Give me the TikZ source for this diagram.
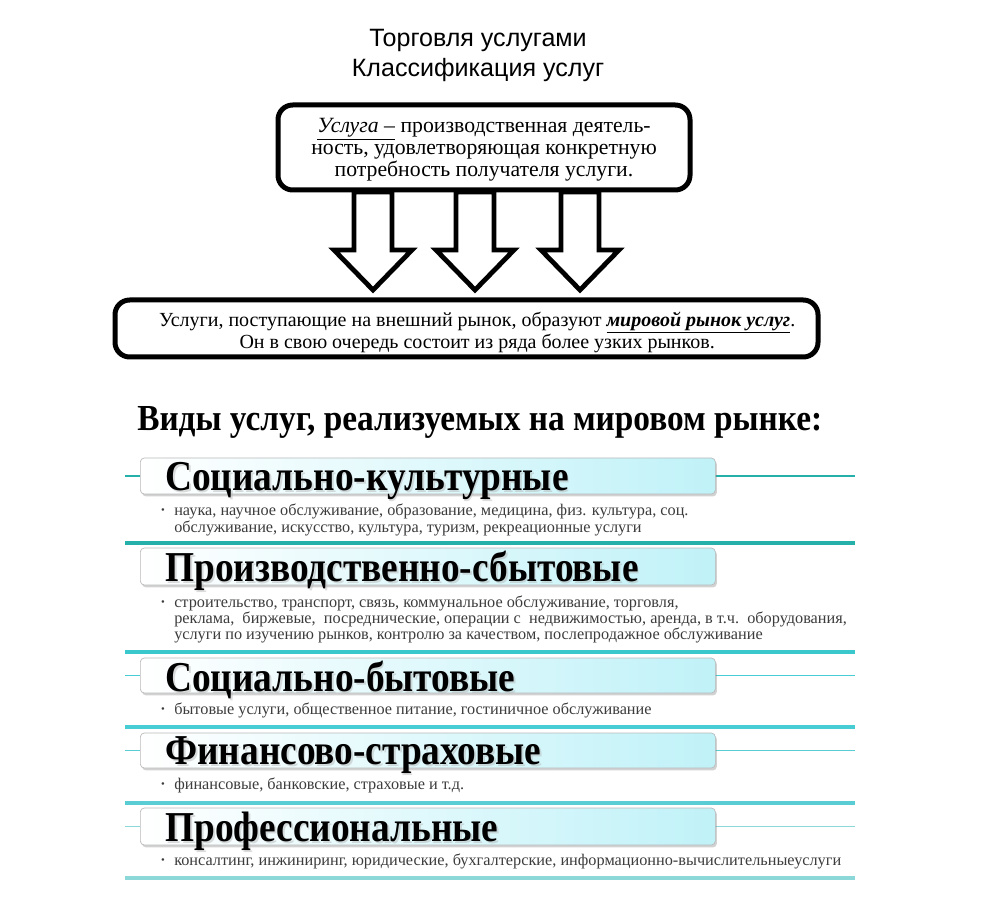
\documentclass[tikz,border=0pt]{standalone}
\usepackage{fontspec}
\setmainfont{Liberation Serif}
\newfontfamily\titlefont{Liberation Sans}
\usetikzlibrary{shadows}
\definecolor{bandcyan}{RGB}{192,242,248}
\definecolor{tealA}{RGB}{38,176,170}
\definecolor{tealB}{RGB}{58,200,205}
\definecolor{tealC}{RGB}{72,205,212}
\definecolor{tealD}{RGB}{90,205,212}
\definecolor{tealE}{RGB}{140,215,215}
\definecolor{bodygray}{RGB}{60,60,60}
\newcommand\tallhead[1]{\scalebox{1}[1.14]{#1}}
\tikzset{
  titletext/.style={font=\titlefont\fontsize{18.8}{22}\selectfont},
  bigbox/.style={draw=black, line width=3.75pt, rounded corners=11pt, fill=white, align=center, inner sep=0pt},
  boxtext/.style={align=center, inner sep=0pt},
  blockarrow/.style={draw=black, line width=3.6pt, fill=white, line join=miter},
  bandbox/.style={draw=gray!55, line width=0.5pt, rounded corners=3pt, left color=white, right color=bandcyan,
     drop shadow={opacity=0.35, shadow xshift=1.2pt, shadow yshift=-1.8pt}, inner sep=0pt, anchor=west},
  bandhead/.style={font=\bfseries\fontsize{28}{30}\selectfont, anchor=west, inner sep=0pt},
  bandshadow/.style={bandhead, text=black!30, opacity=0.45},
  bandbody/.style={font=\fontsize{12.2}{11}\selectfont, text=bodygray, anchor=north west, align=left, inner sep=0pt},
  bullet/.style={font=\fontsize{8}{8}\selectfont, text=bodygray, inner sep=0pt},
  thinline/.style={line width=1.1pt},
  thickline/.style={line width=3pt},
}
\begin{document}
\begin{tikzpicture}[x=0.75pt,y=-0.75pt]
\useasboundingbox (0,0) rectangle (997,909);
\fill[white] (0,0) rectangle (997,909);

% titles
\node[titletext] (t1) at (478,40) {Торговля услугами};
\node[titletext] (t2) at (478,70) {Классификация услуг};

% arrows (behind boxes)
\foreach \c/\n in {373/a1,475/a2,580/a3}{
  \draw[blockarrow] (\c-19,192) -- (\c+19,192) -- (\c+19,250) -- (\c+39,250) -- (\c,290)
     -- (\c-39,250) -- (\c-19,250) -- cycle;
}

% top box
\node[bigbox, minimum width=309pt, minimum height=63.75pt] (def) at (484,147.5) {};
\node[boxtext, font=\fontsize{16.3}{16.5}\selectfont] (deftext) at ([yshift=-1.5pt]def.center)
  {\underline{\textit{Услуга –}} производственная деятель-\\ность, удовлетворяющая конкретную\\потребность получателя услуги.};

% middle box
\node[bigbox, minimum width=527.25pt, minimum height=42.75pt] (market) at (466.5,328.5) {};
\node[boxtext, font=\fontsize{15}{15}\selectfont] (markettext) at ([xshift=8pt,yshift=-3pt]market.center)
  {Услуги, поступающие на внешний рынок, образуют \underline{\textbf{\textit{мировой рынок услуг}}}.\\Он в свою очередь состоит из ряда более узких рынков.};

% heading
\node[anchor=west, inner sep=0pt, font=\bfseries\fontsize{25}{28}\selectfont] (kinds) at (137,422)
  {\scalebox{1}[1.1]{Виды услуг, реализуемых на мировом рынке:}};

% ---- band 1
\draw[thinline, tealA] (125,476) -- (140,476);
\draw[thinline, tealA] (715,476) -- (855,476);
\node[bandbox, minimum width=431.25pt, minimum height=27pt] (b1) at (140,476) {};
\node[bandshadow] (h1s) at ([xshift=1.3pt,yshift=-1.6pt]165,481) {\tallhead{Социально-культурные}};
\node[bandhead] (h1) at (165,481) {\tallhead{Социально-культурные}};
\node[bullet] (d1) at (163,511) {•};
\node[bandbody] (x1) at (174,504) {наука, научное обслуживание, образование, медицина, физ. культура, соц.\\обслуживание, искусство, культура, туризм, рекреационные услуги};
\draw[thickline, tealA] (125,543) -- (855,543);

% ---- band 2
\node[bandbox, minimum width=431.25pt, minimum height=27.75pt] (b2) at (140,566.5) {};
\node[bandshadow] (h2s) at ([xshift=1.3pt,yshift=-1.6pt]165,571) {\tallhead{Производственно-сбытовые}};
\node[bandhead] (h2) at (165,571) {\tallhead{Производственно-сбытовые}};
\node[bullet] (d2) at (163,603) {•};
\node[bandbody, font=\fontsize{12.2}{12}\selectfont] (x2) at (174,596) {строительство, транспорт, связь, коммунальное обслуживание, торговля,\\реклама,\ \ биржевые,\ \ посреднические, операции с\ \ недвижимостью, аренда, в т.ч.\ \ оборудования,\\услуги по изучению рынков, контролю за качеством, послепродажное обслуживание};
\draw[thickline, tealB] (125,652) -- (855,652);

% ---- band 3
\draw[thinline, tealC] (125,675.5) -- (140,675.5);
\draw[thinline, tealC] (715,675.5) -- (855,675.5);
\node[bandbox, minimum width=431.25pt, minimum height=26.25pt] (b3) at (140,675.5) {};
\node[bandshadow] (h3s) at ([xshift=1.3pt,yshift=-1.6pt]165,680) {\tallhead{Социально-бытовые}};
\node[bandhead] (h3) at (165,680) {\tallhead{Социально-бытовые}};
\node[bullet] (d3) at (163,710) {•};
\node[bandbody] (x3) at (174,703) {бытовые услуги, общественное питание, гостиничное обслуживание};
\draw[thickline, tealC] (125,727) -- (855,727);

% ---- band 4
\draw[thinline, tealD] (125,750.5) -- (140,750.5);
\draw[thinline, tealD] (715,750.5) -- (855,750.5);
\node[bandbox, minimum width=431.25pt, minimum height=26.25pt] (b4) at (140,750.5) {};
\node[bandshadow] (h4s) at ([xshift=1.3pt,yshift=-1.6pt]165,755) {\tallhead{Финансово-страховые}};
\node[bandhead] (h4) at (165,755) {\tallhead{Финансово-страховые}};
\node[bullet] (d4) at (163,785) {•};
\node[bandbody] (x4) at (174,778) {финансовые, банковские, страховые и т.д.};
\draw[thickline, tealD] (125,803) -- (855,803);

% ---- band 5
\draw[thinline, tealE] (125,826.5) -- (140,826.5);
\draw[thinline, tealE] (715,826.5) -- (855,826.5);
\node[bandbox, minimum width=431.25pt, minimum height=27.75pt] (b5) at (140,826.5) {};
\node[bandshadow] (h5s) at ([xshift=1.3pt,yshift=-1.6pt]165,831) {\tallhead{Профессиональные}};
\node[bandhead] (h5) at (165,831) {\tallhead{Профессиональные}};
\node[bullet] (d5) at (163,861) {•};
\node[bandbody] (x5) at (174,854) {консалтинг, инжиниринг, юридические, бухгалтерские, информационно-вычислительныеуслуги};
\draw[thickline, tealE] (125,878) -- (855,878);
\end{tikzpicture}
\end{document}
